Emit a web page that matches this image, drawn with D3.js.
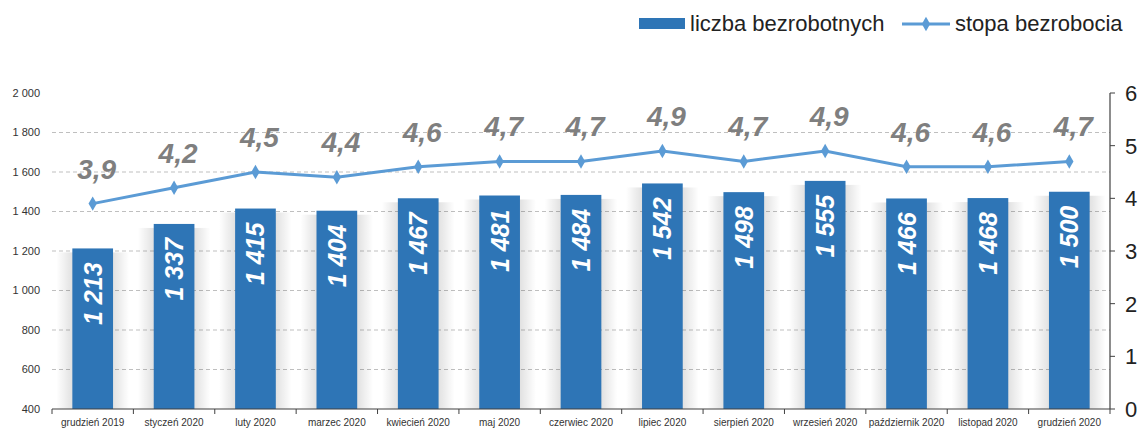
<!DOCTYPE html>
<html>
<head>
<meta charset="utf-8">
<script src="https://cdn.jsdelivr.net/npm/d3@7"></script>
<style>
  body { margin: 0; background: #fff; }
  svg { display: block; font-family: "Liberation Sans", Arial, sans-serif; }
</style>
</head>
<body>
<div id="chart"></div>
<script>
const months = ["grudzień 2019", "styczeń 2020", "luty 2020", "marzec 2020", "kwiecień 2020", "maj 2020",
  "czerwiec 2020", "lipiec 2020", "sierpień 2020", "wrzesień 2020", "październik 2020", "listopad 2020", "grudzień 2020"];
const unemployed = [1213, 1337, 1415, 1404, 1467, 1481, 1484, 1542, 1498, 1555, 1466, 1468, 1500];
const rate = [3.9, 4.2, 4.5, 4.4, 4.6, 4.7, 4.7, 4.9, 4.7, 4.9, 4.6, 4.6, 4.7];
const leftTicks = [400, 600, 800, 1000, 1200, 1400, 1600, 1800, 2000];
const rightTicks = [0, 1, 2, 3, 4, 5, 6];

const width = 1147;
const height = 430;
const margin = { top: 93, right: 37, bottom: 21, left: 52 };
const barColor = "#2e75b6";
const lineColor = "#5b9bd5";

const fmt = v => d3.format(",")(v).replace(/,/g, " ");
const fmtRate = v => v.toFixed(1).replace(".", ",");

const svg = d3.select("#chart").append("svg")
  .attr("width", width)
  .attr("height", height);

// soft halo beside the bars, done with a gradient
const defs = svg.append("defs");
const hGrad = defs.append("linearGradient").attr("id", "haloH").attr("x1", 0).attr("x2", 1).attr("y1", 0).attr("y2", 0);
[[0, 0], [0.3, 0.16], [0.5, 0.2], [0.7, 0.16], [1, 0]].forEach(([o, a]) =>
  hGrad.append("stop").attr("offset", o).attr("stop-color", "#000").attr("stop-opacity", a));

const x = d3.scaleBand().domain(months).range([margin.left, width - margin.right]).paddingInner(0.5).paddingOuter(0.25);
const y = d3.scaleLinear().domain([400, 2000]).range([height - margin.bottom, margin.top]);
const y2 = d3.scaleLinear().domain([0, 6]).range([height - margin.bottom, margin.top]);
const band = d3.scaleBand().domain(months).range([margin.left, width - margin.right]);

// grid
svg.append("g")
  .selectAll("line")
  .data(leftTicks.filter(d => d > 400 && d < 2000))
  .join("line")
  .attr("x1", margin.left).attr("x2", width - margin.right)
  .attr("y1", d => y(d)).attr("y2", d => y(d))
  .attr("stroke", "#bfbfbf")
  .attr("stroke-dasharray", "4,3")
  .attr("stroke-width", 1);

// left axis labels
svg.append("g")
  .selectAll("text")
  .data(leftTicks)
  .join("text")
  .attr("x", 40)
  .attr("y", d => y(d))
  .attr("dy", "0.35em")
  .attr("text-anchor", "end")
  .style("font-size", "11px")
  .style("fill", "#333")
  .text(fmt);

svg.append("g")
  .selectAll("rect")
  .data(unemployed)
  .join("rect")
  .attr("x", (d, i) => x(months[i]) - 16)
  .attr("width", x.bandwidth() + 32)
  .attr("y", d => y(d) + 4)
  .attr("height", d => y(400) - y(d) - 4)
  .attr("fill", "url(#haloH)");

// bars
const bars = svg.append("g");
bars.selectAll("rect")
  .data(unemployed)
  .join("rect")
  .attr("x", (d, i) => x(months[i]))
  .attr("width", x.bandwidth())
  .attr("y", d => y(d))
  .attr("height", d => y(400) - y(d))
  .attr("fill", barColor);

bars.selectAll("text")
  .data(unemployed)
  .join("text")
  .attr("transform", (d, i) => `translate(${x(months[i]) + x.bandwidth() / 2 + 9},${y(d) + 14}) rotate(-90)`)
  .attr("text-anchor", "end")
  .style("font-size", "25px")
  .style("font-weight", "bold")
  .style("font-style", "italic")
  .style("fill", "#fff")
  .text(fmt);

// x axis
const xAxis = svg.append("g").attr("transform", `translate(0,${y(400)})`);
xAxis.append("line")
  .attr("x1", margin.left).attr("x2", width - margin.right)
  .attr("stroke", "#404040").attr("stroke-width", 1.2);
xAxis.selectAll(".tick")
  .data(d3.range(months.length + 1))
  .join("line")
  .attr("x1", i => margin.left + i * band.bandwidth())
  .attr("x2", i => margin.left + i * band.bandwidth())
  .attr("y1", 0).attr("y2", 5)
  .attr("stroke", "#404040");
xAxis.selectAll("text")
  .data(months)
  .join("text")
  .attr("x", d => x(d) + x.bandwidth() / 2)
  .attr("y", 17)
  .attr("text-anchor", "middle")
  .style("font-size", "10px")
  .style("fill", "#333")
  .text(d => d);

// right axis
const rAxis = svg.append("g").attr("transform", `translate(${width - margin.right},0)`);
rAxis.append("line")
  .attr("y1", y2(0)).attr("y2", y2(6))
  .attr("stroke", "#404040").attr("stroke-width", 1.2);
rAxis.selectAll("line.t")
  .data(rightTicks)
  .join("line")
  .attr("class", "t")
  .attr("x1", 0).attr("x2", 5)
  .attr("y1", d => y2(d)).attr("y2", d => y2(d))
  .attr("stroke", "#404040");
rAxis.selectAll("text")
  .data(rightTicks)
  .join("text")
  .attr("x", 15)
  .attr("y", d => y2(d))
  .attr("dy", "0.36em")
  .style("font-size", "22px")
  .style("fill", "#222")
  .text(d => d);

// line
const cx = i => x(months[i]) + x.bandwidth() / 2;
const line = d3.line().x((d, i) => cx(i)).y(d => y2(d));
svg.append("path")
  .datum(rate)
  .attr("d", line)
  .attr("fill", "none")
  .attr("stroke", lineColor)
  .attr("stroke-width", 3);

const diamond = d3.symbol().type(d3.symbolDiamond).size(60);
svg.append("g")
  .selectAll("path")
  .data(rate)
  .join("path")
  .attr("d", diamond)
  .attr("transform", (d, i) => `translate(${cx(i)},${y2(d)})`)
  .attr("fill", lineColor);

svg.append("g")
  .selectAll("text")
  .data(rate)
  .join("text")
  .attr("x", (d, i) => cx(i) + 4)
  .attr("y", d => y2(d) - 25)
  .attr("text-anchor", "middle")
  .style("font-size", "28px")
  .style("font-weight", "bold")
  .style("font-style", "italic")
  .style("fill", "#7f7f7f")
  .text(fmtRate);

// legend
const legend = svg.append("g");
legend.append("rect")
  .attr("x", 639).attr("y", 18).attr("width", 46).attr("height", 11)
  .attr("fill", barColor);
legend.append("text")
  .attr("x", 690).attr("y", 31)
  .style("font-size", "22px")
  .style("fill", "#222")
  .text("liczba bezrobotnych");
legend.append("line")
  .attr("x1", 902).attr("x2", 950).attr("y1", 24).attr("y2", 24)
  .attr("stroke", lineColor).attr("stroke-width", 3);
legend.append("path")
  .attr("d", diamond)
  .attr("transform", "translate(926,24)")
  .attr("fill", lineColor);
legend.append("text")
  .attr("x", 955).attr("y", 31)
  .style("font-size", "22px")
  .style("fill", "#222")
  .text("stopa bezrobocia");
</script>
</body>
</html>
